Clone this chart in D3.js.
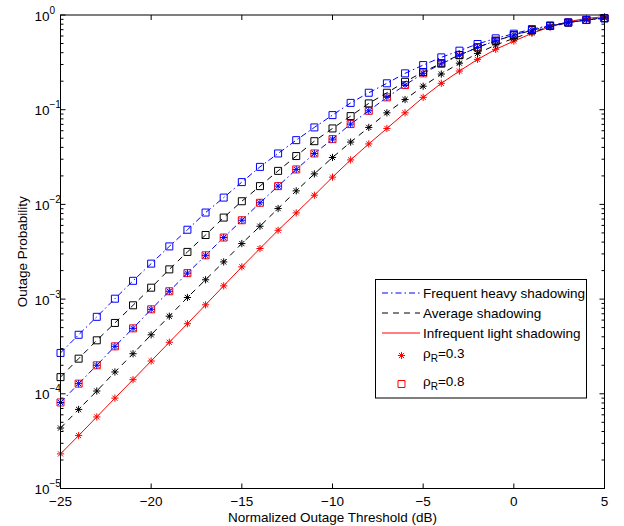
<!DOCTYPE html>
<html><head><meta charset="utf-8">
<script src="https://cdn.jsdelivr.net/npm/d3@7/dist/d3.min.js"></script>
<style>
body{margin:0;background:#fff;}
svg{display:block;font-family:"Liberation Sans",Arial,Helvetica,sans-serif;}
</style>
</head><body>
<svg id="chart" width="624" height="526"></svg>
<script>
// ---------- data ----------
const thresholdDb = [-25,-24,-23,-22,-21,-20,-19,-18,-17,-16,-15,-14,-13,-12,-11,-10,-9,-8,-7,-6,-5,-4,-3,-2,-1,0,1,2,3,4,5];

const heavyRho08 = [2.7e-4,4.2e-4,6.5e-4,1.01e-3,1.56e-3,2.37e-3,3.6e-3,5.4e-3,8.2e-3,0.0118,0.0172,0.0249,0.0345,0.0477,0.065,0.0877,0.118,0.151,0.19,0.242,0.296,0.357,0.42,0.494,0.567,0.635,0.71,0.775,0.835,0.885,0.92];
const averageRho08 = [1.5e-4,2.35e-4,3.67e-4,5.6e-4,8.6e-4,1.32e-3,2.06e-3,3.15e-3,4.75e-3,7.26e-3,0.0108,0.0156,0.0226,0.0324,0.0465,0.0634,0.0856,0.1165,0.151,0.197,0.25,0.31,0.378,0.455,0.535,0.61,0.69,0.765,0.83,0.885,0.925];
const heavyRho03 = [8.1e-5,1.28e-4,2.0e-4,3.17e-4,4.91e-4,7.8e-4,1.21e-3,1.88e-3,2.9e-3,4.47e-3,6.8e-3,0.0104,0.0156,0.0234,0.0345,0.0489,0.0705,0.0974,0.135,0.182,0.242,0.305,0.375,0.455,0.535,0.615,0.695,0.77,0.835,0.89,0.93];
const lightRho08 = [8.1e-5,1.28e-4,2.0e-4,3.17e-4,4.91e-4,7.8e-4,1.21e-3,1.88e-3,2.9e-3,4.47e-3,6.8e-3,0.0104,0.0156,0.0234,0.0345,0.0489,0.0705,0.0974,0.135,0.182,0.242,0.305,0.375,0.455,0.535,0.615,0.695,0.77,0.835,0.89,0.93];
const averageRho03 = [4.35e-5,6.84e-5,1.07e-4,1.70e-4,2.65e-4,4.2e-4,6.6e-4,1.04e-3,1.6e-3,2.47e-3,3.86e-3,5.88e-3,9.04e-3,0.0139,0.021,0.0313,0.0455,0.065,0.0927,0.128,0.177,0.238,0.31,0.393,0.482,0.567,0.66,0.75,0.83,0.89,0.935];
const lightRho03 = [2.32e-5,3.62e-5,5.7e-5,9.0e-5,1.41e-4,2.22e-4,3.5e-4,5.5e-4,8.7e-4,1.38e-3,2.19e-3,3.42e-3,5.33e-3,8.13e-3,0.0125,0.0194,0.0295,0.0435,0.0634,0.0927,0.135,0.19,0.256,0.34,0.434,0.53,0.64,0.75,0.85,0.92,0.96];

const xTickValues = [-25,-20,-15,-10,-5,0,5];
const xTickLabels = ["\u221225","\u221220","\u221215","\u221210","\u22125","0","5"];
const yTickExponents = [0,-1,-2,-3,-4,-5];
const yTickExponentLabels = ["0","\u22121","\u22122","\u22123","\u22124","\u22125"];

const legendLabels = ["Frequent heavy shadowing","Average shadowing","Infrequent light shadowing"];
const rhoLabels = ["0.3","0.8"];

// ---------- layout ----------
const svg = d3.select("#chart");
const L = 60.5, R = 604.5, T = 15, B = 488.5;
const x = d3.scaleLinear().domain([-25,5]).range([L,R]);
const y = d3.scaleLog().domain([1e-5,1]).range([B,T]);
const FS = 13.5;

const BLUE = "#0000ff", RED = "#ff0000", BLACK = "#000000";

svg.append("rect").attr("width",624).attr("height",526).attr("fill","#fff");

// ---------- markers ----------
function asteriskPath(r){
  const d = r*0.72;
  return `M${-r},0H${r}M0,${-r}V${r}M${-d},${-d}L${d},${d}M${-d},${d}L${d},${-d}`;
}
function squarePath(h){
  return `M${-h},${-h}H${h}V${h}H${-h}Z`;
}

const series = [
  {values: lightRho03,   color: RED,   dash: null,        line: true,  marker: "asterisk"},
  {values: lightRho08,   color: RED,   dash: null,        line: false, marker: "square"},
  {values: averageRho03, color: BLACK, dash: "6,5",       line: true,  marker: "asterisk"},
  {values: averageRho08, color: BLACK, dash: "6,5",       line: true,  marker: "square"},
  {values: heavyRho03,   color: BLUE,  dash: "6,3,1.5,3", line: true,  marker: "asterisk"},
  {values: heavyRho08,   color: BLUE,  dash: "6,3,1.5,3", line: true,  marker: "square"}
];

const lineGen = d3.line().x(d => x(d[0])).y(d => y(d[1]));

const plotG = svg.append("g");
series.forEach(s => {
  const pts = thresholdDb.map((t,i) => [t, s.values[i]]);
  if (s.line) {
    plotG.append("path")
      .attr("d", lineGen(pts))
      .attr("fill","none")
      .attr("stroke", s.color)
      .attr("stroke-width", 1)
      .attr("stroke-dasharray", s.dash);
  }
  plotG.selectAll(null).data(pts).enter().append("path")
    .attr("transform", d => `translate(${x(d[0])},${y(d[1])})`)
    .attr("d", s.marker === "asterisk" ? asteriskPath(3.6) : squarePath(3.5))
    .attr("fill","none")
    .attr("stroke", s.color)
    .attr("stroke-width", 1);
});

// ---------- axes ----------
const axG = svg.append("g").attr("stroke","#000").attr("stroke-width",1).attr("fill","none");
axG.append("rect").attr("x",L).attr("y",T).attr("width",R-L).attr("height",B-T);

xTickValues.forEach(v => {
  axG.append("line").attr("x1",x(v)).attr("x2",x(v)).attr("y1",B).attr("y2",B-5);
  axG.append("line").attr("x1",x(v)).attr("x2",x(v)).attr("y1",T).attr("y2",T+5);
});
yTickExponents.forEach(e => {
  const v = Math.pow(10,e);
  axG.append("line").attr("x1",L).attr("x2",L+5).attr("y1",y(v)).attr("y2",y(v));
  axG.append("line").attr("x1",R).attr("x2",R-5).attr("y1",y(v)).attr("y2",y(v));
  if (e < 0) {
    for (let m = 2; m <= 9; m++) {
      const mv = m*v;
      axG.append("line").attr("x1",L).attr("x2",L+3).attr("y1",y(mv)).attr("y2",y(mv));
      axG.append("line").attr("x1",R).attr("x2",R-3).attr("y1",y(mv)).attr("y2",y(mv));
    }
  }
});

const txtG = svg.append("g").attr("fill","#000").attr("font-size",FS);
txtG.selectAll(null).data(xTickValues).enter().append("text")
  .attr("x", d => x(d)).attr("y", 505.5)
  .attr("text-anchor","middle")
  .text((d,i) => xTickLabels[i]);

yTickExponents.forEach((e,i) => {
  const t = txtG.append("text").attr("x",34.5).attr("y", y(Math.pow(10,e)) + 5.5);
  t.append("tspan").text("10");
  t.append("tspan").attr("dy",-7).attr("font-size",10).text(yTickExponentLabels[i]);
});

txtG.append("text").attr("x",(L+R)/2).attr("y",521.5).attr("text-anchor","middle")
  .text("Normalized Outage Threshold (dB)");
txtG.append("text").attr("transform",`translate(27,${(T+B)/2}) rotate(-90)`)
  .attr("text-anchor","middle").text("Outage Probability");

// ---------- legend ----------
const lg = svg.append("g");
lg.append("rect").attr("x",375.5).attr("y",279.5).attr("width",211).attr("height",118.5)
  .attr("fill","#fff").attr("stroke","#000").attr("stroke-width",1);
const lineStyles = [series[5], series[3], series[0]];
const rowBase = [297.5, 317.5, 337.5];
legendLabels.forEach((lab,i) => {
  const yy = rowBase[i] - 4.5;
  lg.append("line").attr("x1",382).attr("x2",420).attr("y1",yy).attr("y2",yy)
    .attr("stroke",lineStyles[i].color).attr("stroke-width",1)
    .attr("stroke-dasharray",lineStyles[i].dash);
  lg.append("text").attr("x",423).attr("y",rowBase[i]).attr("font-size",FS).text(lab);
});
const rhoBase = [357.5, 386];
rhoLabels.forEach((lab,i) => {
  lg.append("path")
    .attr("transform",`translate(401.5,${rhoBase[i]-2})`)
    .attr("d", i === 0 ? asteriskPath(3.6) : squarePath(3.5))
    .attr("fill","none").attr("stroke",RED).attr("stroke-width",1);
  const t = lg.append("text").attr("x",423).attr("y",rhoBase[i]).attr("font-size",FS);
  t.append("tspan").text("\u03c1");
  t.append("tspan").attr("dy",4).attr("font-size",10).text("R");
  t.append("tspan").attr("dy",-4).text("=" + lab);
});
</script>
</body></html>
